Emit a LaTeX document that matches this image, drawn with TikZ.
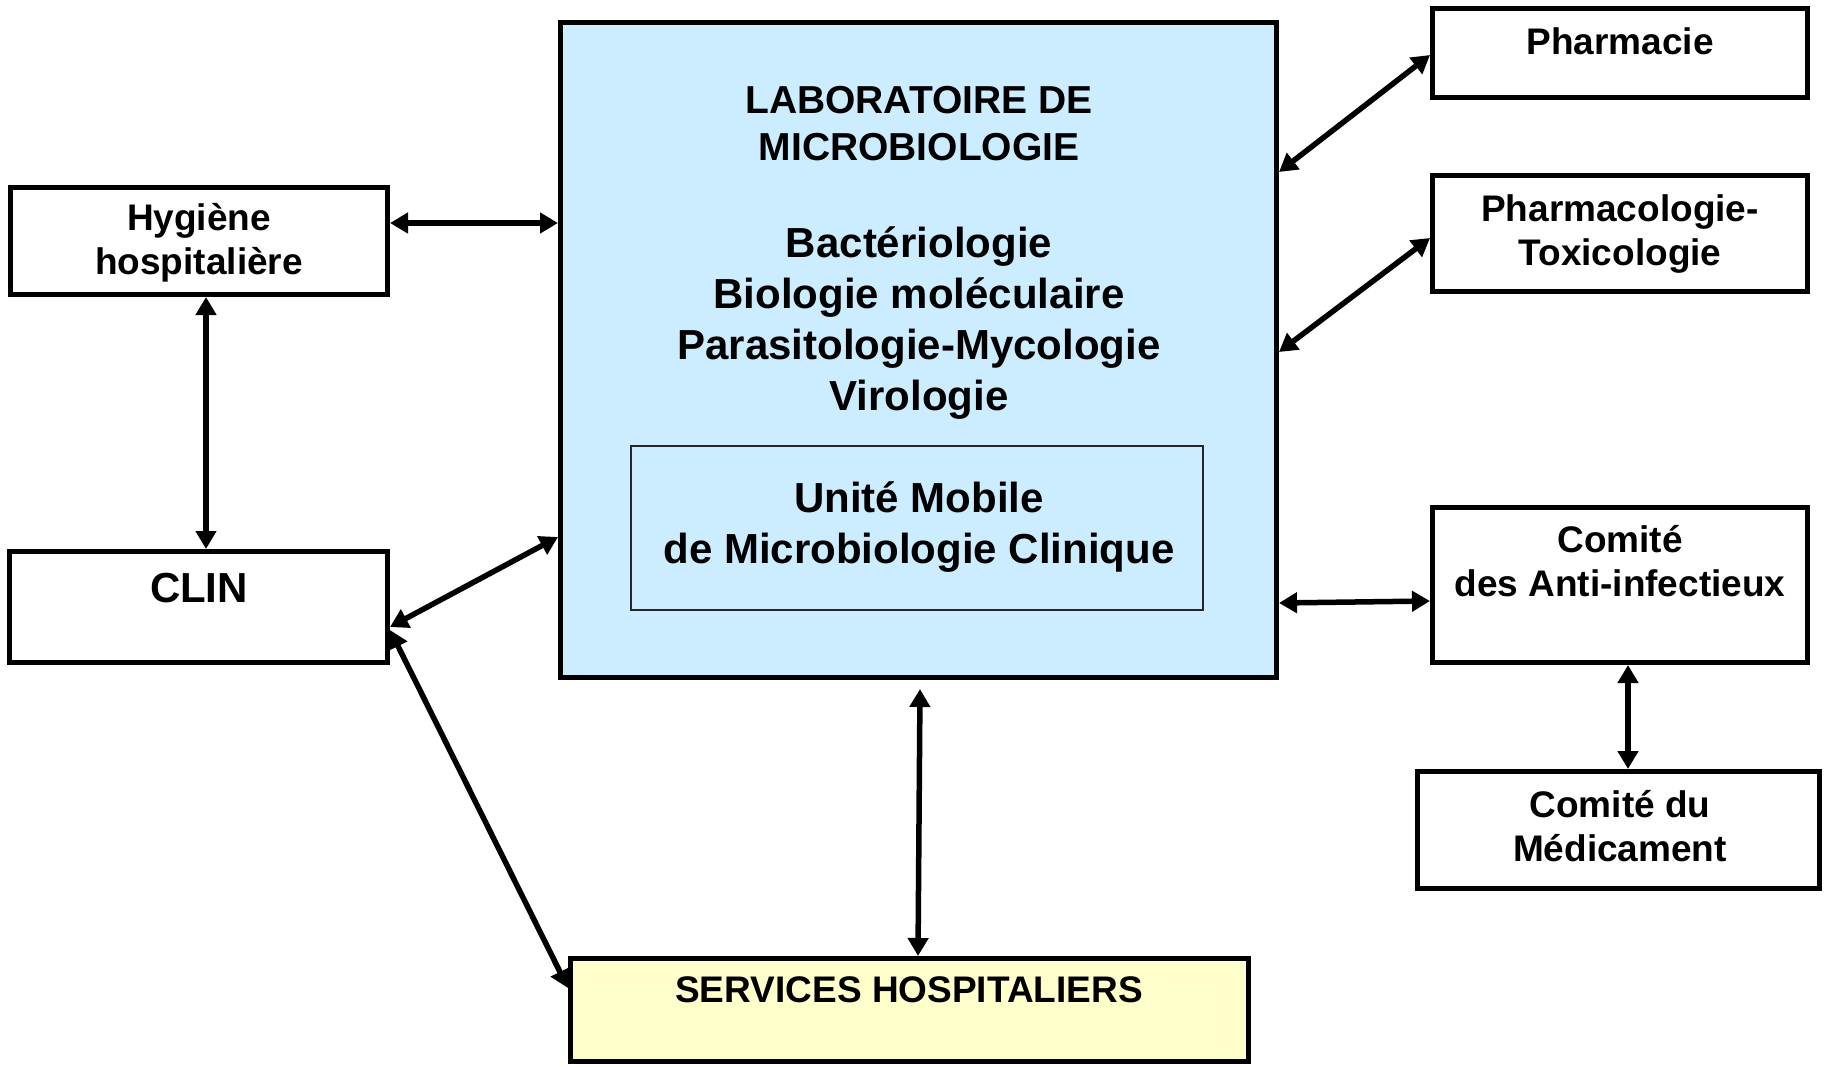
\documentclass[tikz,border=0pt]{standalone}
\usepackage{fontspec}
\setmainfont{Liberation Sans}
\usetikzlibrary{arrows.meta}
\definecolor{labblue}{HTML}{CCECFF}
\definecolor{servyellow}{HTML}{FFFFCC}
\begin{document}
\begin{tikzpicture}[x=1bp,y=-1bp,
  box/.style={draw=black, line width=5bp, rectangle, inner sep=0pt, fill=white},
  thinbox/.style={draw=black!85, line width=2bp, rectangle, inner sep=0pt},
  txtA/.style={align=center, anchor=base, inner sep=0pt, font=\bfseries\fontsize{37bp}{44bp}\selectfont},
  txtB/.style={align=center, anchor=base, inner sep=0pt, font=\bfseries\fontsize{42bp}{51bp}\selectfont},
  txtC/.style={align=center, anchor=base, inner sep=0pt, font=\bfseries\fontsize{39bp}{47bp}\selectfont},
  link/.style={line width=5.5bp, {Triangle[length=18bp,width=20bp]}-{Triangle[length=18bp,width=20bp]}}]
\useasboundingbox (0,0) rectangle (1826,1066);

% boxes
\node[box, fill=labblue, minimum width=716bp, minimum height=655bp] (lab) at (918.5,350) {};
\node[thinbox, minimum width=572bp, minimum height=164bp] (umbox) at (917,528) {};
\node[box, minimum width=377bp, minimum height=107bp] (hyg) at (199,241) {};
\node[box, minimum width=378bp, minimum height=111bp] (clin) at (198.5,607) {};
\node[box, minimum width=375bp, minimum height=89bp] (pharm) at (1620,52.5) {};
\node[box, minimum width=375bp, minimum height=116bp] (pharmaco) at (1620,233.5) {};
\node[box, minimum width=375bp, minimum height=155bp] (cai) at (1620,585) {};
\node[box, minimum width=402bp, minimum height=117bp] (cmed) at (1618.5,830) {};
\node[box, fill=servyellow, minimum width=678bp, minimum height=103bp] (serv) at (909.5,1010) {};

% texts (anchor = baseline of the last line)
\node[txtC] (labtitle) at (919,160) {LABORATOIRE DE\\MICROBIOLOGIE};
\node[txtB] (labdisc) at (919,410) {Bactériologie\\Biologie moléculaire\\Parasitologie-Mycologie\\Virologie};
\node[txtB] (umtext) at (919,563) {Unité Mobile\\de Microbiologie Clinique};
\node[txtA] (hygtext) at (199,274) {Hygiène\\hospitalière};
\node[txtB] (clintext) at (199,602) {CLIN};
\node[txtA] (pharmtext) at (1620,54) {Pharmacie};
\node[txtA] (pharmacotext) at (1620,265) {Pharmacologie-\\Toxicologie};
\node[txtA] (caitext) at (1620,596) {Comité\\des Anti-infectieux};
\node[txtA] (cmedtext) at (1620,861) {Comité du\\Médicament};
\node[txtA] (servtext) at (909,1002) {SERVICES HOSPITALIERS};

% connectors
\draw[link] (hyg.east |- 0,223) -- (lab.west |- 0,223);
\draw[link] (hyg.south -| 206,0) -- (clin.north -| 206,0);
\draw[link] (clin.east |- 0,627) -- (lab.west |- 0,537);
\draw[link] (clin.east |- 0,630) -- (serv.west |- 0,988);
\draw[link] ([shift={(1.5,9)}]lab.south) -- (serv.north -| 918,0);
\draw[link] (lab.east |- 0,172) -- (pharm.west |- 0,55);
\draw[link] (lab.east |- 0,352) -- (pharmaco.west |- 0,238);
\draw[link] (lab.east |- 0,603) -- (cai.west |- 0,601);
\draw[link] (cai.south -| 1628,0) -- (cmed.north -| 1628,0);
\end{tikzpicture}
\end{document}
